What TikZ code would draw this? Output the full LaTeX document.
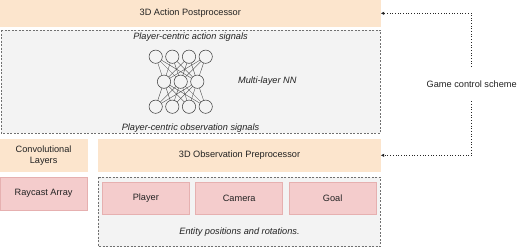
\documentclass[tikz,border=0pt]{standalone}
\usepackage{fontspec}
\setmainfont{Liberation Sans}
\usetikzlibrary{arrows.meta}
\definecolor{orangebox}{HTML}{FCE5CD}
\definecolor{pinkbox}{HTML}{F4CCCC}
\definecolor{pinkline}{HTML}{E6B0B0}
\definecolor{panel}{HTML}{F3F3F3}
\definecolor{panelline}{HTML}{707070}
\definecolor{txt}{HTML}{222222}
\begin{document}
\begin{tikzpicture}[x=1pt,y=-1pt,
  every node/.style={font=\fontsize{9.2}{11}\selectfont, text=txt},
  orangeblk/.style={fill=orangebox, draw=orangebox, line width=0.5pt},
  pinkblk/.style={fill=pinkbox, draw=pinkline, line width=0.6pt},
  panelblk/.style={fill=panel, draw=panelline, dashed, line width=0.5pt, dash pattern=on 2pt off 1.5pt},
  neuron/.style={circle, draw=black!80, line width=0.5pt, minimum size=13.3pt, inner sep=0pt},
  syn/.style={draw=black!75, line width=0.35pt},
  ctrl/.style={draw=black!85, dotted, line width=0.7pt},
  tip/.style={-{Latex[length=3.5pt,width=3.5pt]}},
  lbl/.style={font=\fontsize{9.2}{11}\selectfont\itshape}
]
\useasboundingbox (0,0) rectangle (525,247);

% top action block
\path[orangeblk] (0,0) rectangle (380.7,26);
\node (action) at (190.3,13) {3D Action Postprocessor};
\coordinate (actionE) at (380.7,13.3);

% network panel
\path[panelblk] (1,30) rectangle (380.3,133);
\node[lbl] (actsig) at (190.5,36.7) {Player-centric action signals};
\node[lbl] (obssig) at (190.5,128) {Player-centric observation signals};
\node[lbl] (mlnn) at (267.3,81.5) {Multi-layer NN};

% neurons
\foreach \i/\x in {1/155.7,2/172.3,3/189,4/205.7} {
  \node[neuron] (t\i) at (\x,56.7) {};
  \node[neuron] (b\i) at (\x,106.7) {};
}
\foreach \j/\x in {1/164,2/180.7,3/197.3} {
  \node[neuron] (m\j) at (\x,81.7) {};
}
\foreach \i in {1,...,4} {
  \foreach \j in {1,2,3} {
    \draw[syn] (t\i) -- (m\j);
    \draw[syn] (m\j) -- (b\i);
  }
}

% left column
\path[orangeblk] (0,139) rectangle (87.3,171.5);
\node[align=center] (conv) at (43.6,155.3) {Convolutional\\Layers};
\path[pinkblk] (0,177.3) rectangle (87.3,210);
\node (ray) at (43.6,193.6) {Raycast Array};

% observation block
\path[orangeblk] (98.3,139) rectangle (380.7,171.5);
\node (obs) at (239.5,155.3) {3D Observation Preprocessor};
\coordinate (obsE) at (380.7,155.3);

% entity panel
\path[panelblk] (98.3,177.3) rectangle (380.3,246.5);
\path[pinkblk] (102.7,182.3) rectangle (189,214.3);
\node (player) at (145.8,198.3) {Player};
\path[pinkblk] (195.7,182.3) rectangle (282.7,214.3);
\node (camera) at (239.2,198.3) {Camera};
\path[pinkblk] (289.3,182.3) rectangle (376,214.3);
\node (goal) at (332.6,198.3) {Goal};
\node[lbl] (entity) at (239.5,231.7) {Entity positions and rotations.};

% control scheme links
\node[inner sep=1pt, minimum height=34pt] (game) at (471.7,84) {Game control scheme};
\draw[ctrl, tip] (game.north) -- (471.7,13.3) -- (actionE);
\draw[ctrl, tip] (game.south) -- (471.7,155.3) -- (obsE);
\end{tikzpicture}
\end{document}
